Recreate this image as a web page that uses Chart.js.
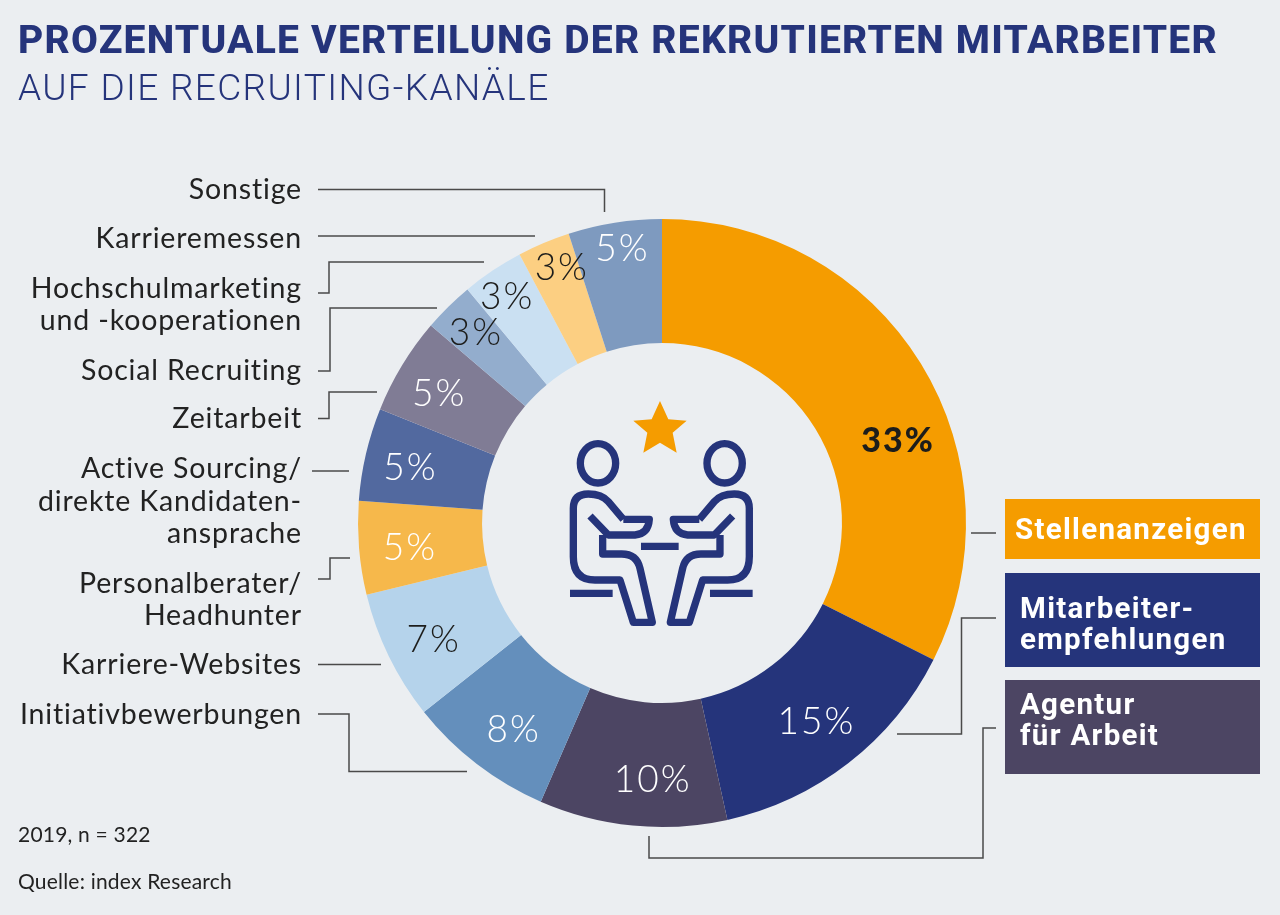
<!DOCTYPE html>
<html lang="de">
<head>
<meta charset="utf-8">
<title>Recruiting-Kanäle</title>
<script src="https://cdn.jsdelivr.net/npm/chart.js@4"></script>
<style>
  html, body { margin: 0; background: #ebeef1; }
  #wrap { position: relative; width: 1280px; height: 915px; overflow: hidden; }
  #chart, #lines { position: absolute; left: 0; top: 0; }
  .t { position: absolute; white-space: nowrap; line-height: 1; }
  #title { left: 18px; top: 17px; font: 800 39px Roboto; letter-spacing: 1.23px; color: #25347b; }
  #subtitle { left: 18px; top: 66px; font: 300 37px Roboto; letter-spacing: 1.35px; color: #25347b; }
  .cat { right: 978px; font: 400 28.5px Lato; letter-spacing: .85px; color: #222; text-align: right; }
  .foot { left: 18px; font: 400 21px Lato; letter-spacing: .2px; color: #222; }
  .box { position: absolute; left: 1005px; width: 255px; }
  .box span { position: absolute; font: 700 29.5px Roboto; letter-spacing: 1.3px; color: #fff; line-height: 31px; white-space: nowrap; }
</style>
</head>
<body>
<div id="wrap">
  <canvas id="chart" width="1280" height="915"></canvas>
  <svg id="lines" width="1280" height="915" fill="none" stroke="#4a4a4a" stroke-width="1.5">
    <path d="M318,189.5H604.5V212"/>
    <path d="M318,236H535"/>
    <path d="M318,293H329V262H484"/>
    <path d="M318,371H330V308H437"/>
    <path d="M318,418.5H329V392H377"/>
    <path d="M312,471H349"/>
    <path d="M318,579H330V558H350"/>
    <path d="M318,664.5H381"/>
    <path d="M318,714H349V771.5H467"/>
    <path d="M971,533H996"/>
    <path d="M897,734H961.5V618H996"/>
    <path d="M649,836V858H983V728H996"/>
    <!-- icon, traced at 3x -->
    <g transform="translate(540,380) scale(.3333)" stroke="#25347b" stroke-width="22" stroke-linejoin="round">
      <polygon points="360,63 385,118 440,122 398,158 410,218 360,188 310,218 322,158 280,122 335,118" fill="#f59c00" stroke="none"/>
      <path d="M303,499H416"/>
      <g id="person">
        <ellipse cx="174" cy="250" rx="53" ry="59"/>
        <path d="M250,418L205,365Q185,342 145,342Q100,342 100,385V530Q100,600 165,600H240L280,727H337L300,565Q290,522 245,522H188V465"/>
        <path d="M150,408L205,465H285Q325,462 328,418H250"/>
        <path d="M90,640H218"/>
      </g>
      <use href="#person" transform="translate(728,0) scale(-1,1)"/>
    </g>
  </svg>
  <div class="t" id="title">PROZENTUALE VERTEILUNG DER REKRUTIERTEN MITARBEITER</div>
  <div class="t" id="subtitle">AUF DIE RECRUITING-KANÄLE</div>
  <div class="t foot" style="top:821px">2019, n = 322</div>
  <div class="t foot" style="top:868px">Quelle: index Research</div>
</div>
<script>
// slices clockwise from 12 o'clock
var categories = [
  "Stellenanzeigen", "Mitarbeiterempfehlungen", "Agentur für Arbeit", "Initiativbewerbungen",
  "Karriere-Websites", "Personalberater/Headhunter", "Active Sourcing/direkte Kandidatenansprache",
  "Zeitarbeit", "Social Recruiting", "Hochschulmarketing und -kooperationen", "Karrieremessen", "Sonstige"
];
// they round to the printed percentages
var shares = [33.3, 14.5, 10.25, 8, 7.07, 5.1, 5.07, 5.28, 2.77, 3.38, 2.87, 5.1];

// left labels, one entry per printed line
var sideLines = [
  "Sonstige", "Karrieremessen", "Hochschulmarketing", "und -kooperationen", "Social Recruiting", "Zeitarbeit",
  "Active Sourcing/", "direkte Kandidaten-", "ansprache", "Personalberater/", "Headhunter",
  "Karriere-Websites", "Initiativbewerbungen"
];
var sideLineY = [189, 238, 288, 320, 370, 418, 468, 501, 533, 583, 615, 664, 714];

var sliceColors = ["#f59c00", "#25347b", "#4c4563", "#648fbc", "#b5d3eb", "#f6b84b", "#52699f", "#807c95", "#93adcd", "#cae0f2", "#fccf82", "#7e9abf"];
var pctColors = ["#1d1d1b", "#fff", "#fff", "#fff", "#1d1d1b", "#fff", "#fff", "#fff", "#1d1d1b", "#1d1d1b", "#1d1d1b", "#fff"];
// how far each printed % sits from the middle of its slice
var pctShift = [[30, 45], [6, 8], [14, 16], [-1, 15], [-11, 11], [-11, 5], [-16, 0], [-16, -3], [-16, -18], [-20, -25], [-6, -32], [-2, -35]];

var wrap = document.getElementById("wrap");

sideLines.forEach(function (txt, i) {
  var d = document.createElement("div");
  d.className = "t cat";
  d.textContent = txt;
  d.style.top = (sideLineY[i] - 18) + "px";
  wrap.appendChild(d);
});

// the three big channels on the right
var boxes = [
  { top: 499, h: 60, color: sliceColors[0], left: 10, lines: [["Stellenanzeigen", 15]] },
  { top: 573, h: 94, color: sliceColors[1], left: 15, lines: [["Mitarbeiter-", 20], ["empfehlungen", 51]] },
  { top: 680, h: 94, color: sliceColors[2], left: 15, lines: [["Agentur", 9], ["für Arbeit", 40]] }
];
boxes.forEach(function (b) {
  var d = document.createElement("div");
  d.className = "box";
  d.style.top = b.top + "px";
  d.style.height = b.h + "px";
  d.style.background = b.color;
  b.lines.forEach(function (l) {
    var s = document.createElement("span");
    s.textContent = l[0];
    s.style.left = b.left + "px";
    s.style.top = l[1] + "px";
    d.appendChild(s);
  });
  wrap.appendChild(d);
});

var pctLabels = {
  id: "pctLabels",
  afterDatasetsDraw: function (chart) {
    var ctx = chart.ctx;
    var arcs = chart.getDatasetMeta(0).data;
    ctx.save();
    ctx.textAlign = "center";
    ctx.textBaseline = "middle";
    ctx.letterSpacing = "2px";
    arcs.forEach(function (arc, i) {
      var p = arc.tooltipPosition();
      ctx.font = i == 0 ? "900 34px Lato" : "300 37px Lato";
      ctx.fillStyle = pctColors[i];
      ctx.fillText(Math.round(shares[i]) + "%", p.x + pctShift[i][0], p.y + pctShift[i][1]);
    });
    ctx.restore();
  }
};

new Chart(document.getElementById("chart"), {
  type: "doughnut",
  data: {
    labels: categories,
    datasets: [{ data: shares, backgroundColor: sliceColors, borderWidth: 0 }]
  },
  options: {
    responsive: false,
    animation: false,
    cutout: "59.2%",
    layout: { padding: { left: 358, top: 219, right: 314, bottom: 88 } },
    plugins: { legend: { display: false }, tooltip: { enabled: false } }
  },
  plugins: [pctLabels]
});
</script>
</body>
</html>
